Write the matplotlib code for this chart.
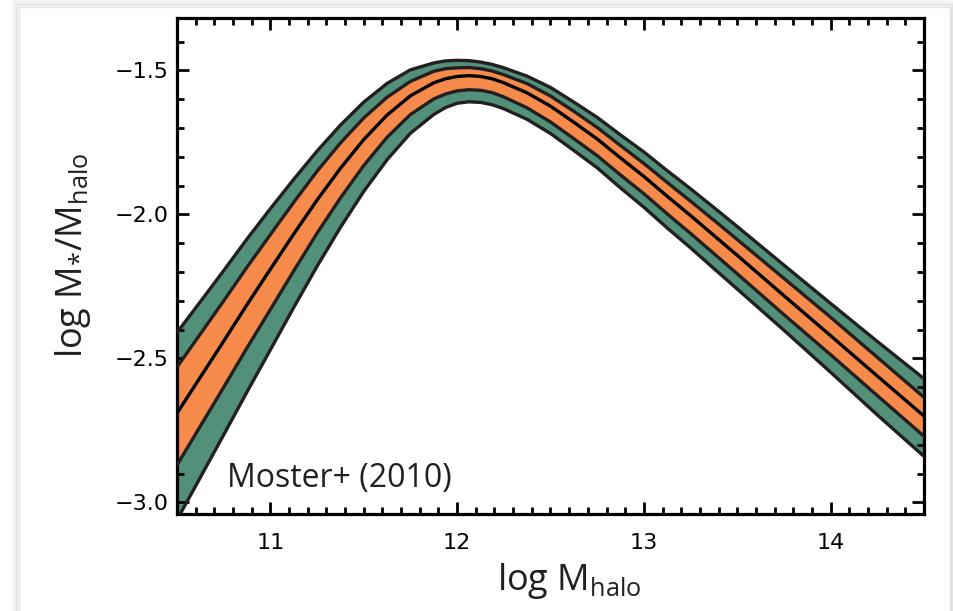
import matplotlib
matplotlib.use("Agg")
import matplotlib.pyplot as plt
from matplotlib.ticker import MultipleLocator
from matplotlib.patches import Rectangle

# ---- data ----
log_mhalo = [10.5, 10.625, 10.75, 10.875, 11.0, 11.125, 11.25, 11.375, 11.5, 11.625,
             11.75, 11.875, 11.9375, 12.0, 12.0625, 12.125, 12.1875, 12.25, 12.375, 12.5,
             12.625, 12.75, 12.875, 13.0, 13.125, 13.25, 13.375, 13.5, 13.75, 14.0,
             14.25, 14.5]
central = [-2.69, -2.565, -2.44, -2.313, -2.19, -2.068, -1.95, -1.84, -1.74, -1.655,
           -1.588, -1.543, -1.529, -1.521, -1.518, -1.521, -1.529, -1.543, -1.578, -1.624,
           -1.68, -1.738, -1.804, -1.868, -1.937, -2.004, -2.073, -2.142, -2.282, -2.421,
           -2.561, -2.70]
outer_upper = [-2.41, -2.303, -2.195, -2.085, -1.98, -1.878, -1.78, -1.69, -1.61, -1.545,
               -1.498, -1.474, -1.467, -1.465, -1.466, -1.471, -1.479, -1.491, -1.52, -1.559,
               -1.61, -1.663, -1.724, -1.783, -1.848, -1.911, -1.976, -2.042, -2.176, -2.309,
               -2.441, -2.57]
inner_upper = [-2.53, -2.415, -2.30, -2.183, -2.07, -1.958, -1.85, -1.752, -1.665, -1.593,
               -1.538, -1.503, -1.494, -1.491, -1.49, -1.494, -1.502, -1.515, -1.546, -1.589,
               -1.642, -1.698, -1.761, -1.823, -1.889, -1.954, -2.02, -2.087, -2.222, -2.357,
               -2.496, -2.635]
inner_lower = [-2.87, -2.735, -2.60, -2.463, -2.33, -2.196, -2.065, -1.943, -1.83, -1.732,
               -1.653, -1.599, -1.582, -1.571, -1.567, -1.569, -1.577, -1.592, -1.63, -1.679,
               -1.737, -1.796, -1.863, -1.928, -1.998, -2.066, -2.136, -2.206, -2.348, -2.487,
               -2.629, -2.77]
outer_lower = [-3.06, -2.913, -2.765, -2.616, -2.47, -2.323, -2.18, -2.045, -1.92, -1.81,
               -1.718, -1.653, -1.629, -1.614, -1.609, -1.611, -1.619, -1.633, -1.67, -1.719,
               -1.778, -1.838, -1.908, -1.975, -2.047, -2.116, -2.188, -2.259, -2.402, -2.548,
               -2.696, -2.84]

x_ticks = [11, 12, 13, 14]
y_ticks = [-3.0, -2.5, -2.0, -1.5]
x_ticklabels = ["11", "12", "13", "14"]
y_ticklabels = ["\u22123.0", "\u22122.5", "\u22122.0", "\u22121.5"]
annotation = "Moster+ (2010)"

GREEN = "#52907a"
ORANGE = "#f58a4b"
EDGE = "#231f20"

plt.rcParams["font.family"] = ["Open Sans", "DejaVu Sans"]
plt.rcParams["mathtext.default"] = "regular"

fig = plt.figure(figsize=(9.54, 6.11), dpi=100)
fig.patch.set_facecolor("white")

# card frame / shadow of the screenshot
for i, a in enumerate([0.10, 0.06, 0.03]):
    fig.patches.append(Rectangle((19 / 954 - (i + 1) * 2 / 954, -0.1), (950 - 19) / 954 + (i + 1) * 4 / 954,
                                 (604 - 0) / 611 + 0.1 + (i + 1) * 2 / 611,
                                 transform=fig.transFigure, facecolor="none",
                                 edgecolor=(0, 0, 0, a), linewidth=1.5, zorder=-20))
fig.patches.append(Rectangle((19 / 954, -0.1), (950 - 19) / 954, 604 / 611 + 0.1,
                             transform=fig.transFigure, facecolor="white",
                             edgecolor="#e2e2e2", linewidth=1.0, zorder=-10))

ax = fig.add_axes([177 / 954, 1 - 514 / 611, (924 - 177) / 954, (514 - 18) / 611])
ax.set_zorder(5)
ax.set_xlim(10.5, 14.5)
ax.set_ylim(-3.04, -1.318)

ax.fill_between(log_mhalo, outer_lower, outer_upper, color=GREEN, lw=0, zorder=1)
ax.fill_between(log_mhalo, inner_lower, inner_upper, color=ORANGE, lw=0, zorder=2)
for series in (outer_upper, inner_upper, inner_lower, outer_lower):
    ax.plot(log_mhalo, series, color=EDGE, lw=2.4, zorder=3, solid_joinstyle="round")
ax.plot(log_mhalo, central, color="black", lw=2.4, zorder=4, solid_joinstyle="round")

ax.set_xticks(x_ticks)
ax.set_xticklabels(x_ticklabels)
ax.set_yticks(y_ticks)
ax.set_yticklabels(y_ticklabels)
ax.xaxis.set_minor_locator(MultipleLocator(0.1))
ax.yaxis.set_minor_locator(MultipleLocator(0.1))
ax.tick_params(which="both", direction="in", top=True, right=True, colors="black", width=2.0)
ax.tick_params(which="major", length=8.5)
ax.tick_params(which="minor", length=5.0)
ax.tick_params(axis="x", which="major", pad=14)
ax.tick_params(axis="y", which="major", pad=6)
for lab in ax.get_xticklabels() + ax.get_yticklabels():
    lab.set_fontfamily(["DejaVu Sans"])
    lab.set_fontsize(16)
for sp in ax.spines.values():
    sp.set_linewidth(2.3)
    sp.set_color("black")

ax.set_xlabel("log M$_{halo}$", fontsize=26, color="#231f20")
ax.xaxis.set_label_coords(0.525, -0.095)
ax.set_ylabel("log M$_{*}$/M$_{halo}$", fontsize=26, color="#231f20")
ax.yaxis.set_label_coords(-0.112, 0.522)

ax.text(0.067, 0.054, annotation, transform=ax.transAxes, fontsize=23,
        color="#231f20", ha="left", va="baseline")

fig.savefig("out.png", dpi=100, facecolor="white")
